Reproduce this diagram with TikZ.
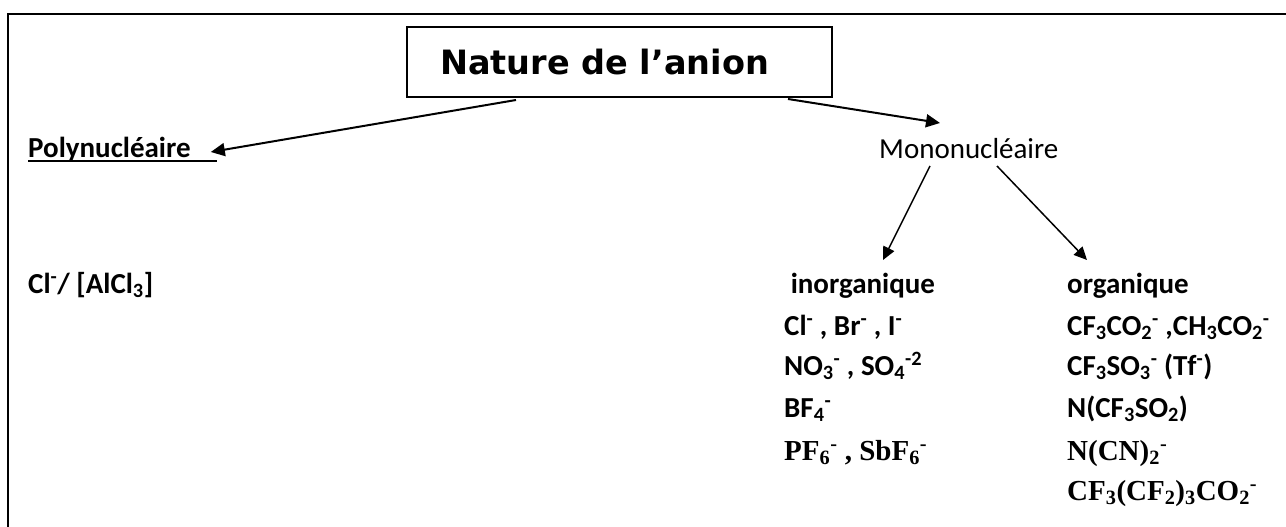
\documentclass[tikz,border=0pt]{standalone}
\usepackage{fontspec}
\setmainfont{Carlito}
\newfontfamily\titlefont{DejaVu Sans}
\newfontfamily\timesfont{Liberation Serif}
\usetikzlibrary{arrows.meta,calc}
\newcommand\subx[1]{\textsubscript{#1}}
\newcommand\supx[1]{\textsuperscript{#1}}
\tikzset{
  txt/.style={anchor=base west, inner sep=0pt, font=\fontsize{29}{34}\selectfont\bfseries},
  ttxt/.style={anchor=base west, inner sep=0pt, font=\fontsize{29}{34}\selectfont\timesfont\bfseries},
  arr/.style={-{Triangle[length=14pt,width=13pt]}, line width=2pt},
  arrs/.style={-{Triangle[length=13pt,width=12pt]}, line width=1.5pt},
}
\begin{document}
\begin{tikzpicture}[x=1pt,y=-1pt]
\useasboundingbox (0,0) rectangle (1286,527);
% frame
\draw[line width=2pt] (8,527) -- (8,14.5) -- (1290,14.5);
% title
\node[draw, line width=2pt, minimum width=425, minimum height=70, inner sep=0pt,
      font=\fontsize{33.5}{38}\selectfont\titlefont\bfseries] (title) at (619.5,62)
      {\hspace*{-30pt}Nature de l’anion};
% level 1
\node[txt] (poly) at (28,157) {Polynucléaire\hspace*{26pt}};
\draw[line width=2.2pt] ($(poly.base west)+(0,4)$) -- ($(poly.base east)+(0,4)$);
\node[anchor=base west, inner sep=0pt, font=\fontsize{29}{34}\selectfont] (mono) at (879,158) {Mononucléaire};
% level 2
\node[txt] (cl) at (28,293) {Cl\supx{-}/ [AlCl\subx{3}]};
\node[txt] (inorg) at (784,293) {\ inorganique};
\node[txt] (org) at (1067,293) {organique};
% inorganic list
\node[txt] (i1) at (784,335) {Cl\supx{-} , Br\supx{-} , I\supx{-}};
\node[txt] (i2) at (784,375) {NO\subx{3}\supx{-} , SO\subx{4}\supx{-2}};
\node[txt] (i3) at (784,417) {BF\subx{4}\supx{-}};
\node[ttxt] (i4) at (784,460) {PF\subx{6}\supx{-} , SbF\subx{6}\supx{-}};
% organic list
\node[txt] (o1) at (1067,335) {CF\subx{3}CO\subx{2}\supx{-} ,CH\subx{3}CO\subx{2}\supx{-}};
\node[txt] (o2) at (1067,375) {CF\subx{3}SO\subx{3}\supx{-} (Tf\supx{-})};
\node[txt] (o3) at (1067,417) {N(CF\subx{3}SO\subx{2})};
\node[ttxt] (o4) at (1067,460) {N(CN)\subx{2}\supx{-}};
\node[ttxt] (o5) at (1067,500) {CF\subx{3}(CF\subx{2})\subx{3}CO\subx{2}\supx{-}};
% arrows
\draw[arr] ($(title.south west)+(110,2)$) -- ($(poly.base east)+(-6,-5)$);
\draw[arr] ($(title.south east)+(-45,1)$) -- ($(mono.base west)+(61,-35)$);
\draw[arrs] ($(mono.base west)+(51,8)$) -- ($(inorg.base west)+(99,-33)$);
\draw[arrs] ($(mono.base west)+(118,8)$) -- ($(org.base west)+(20,-33)$);
\end{tikzpicture}
\end{document}
